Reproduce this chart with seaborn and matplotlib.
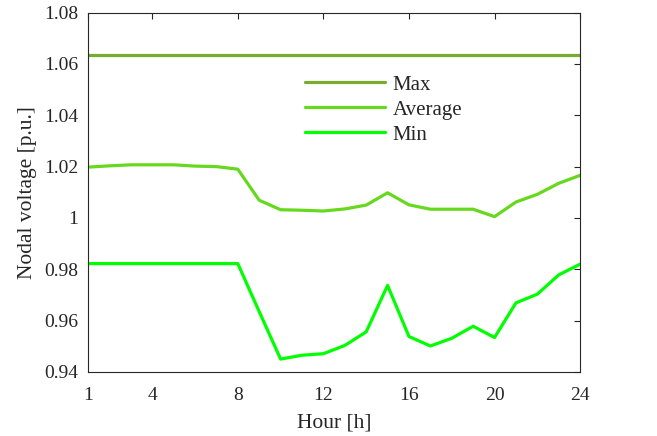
import numpy as np
import pandas as pd
import matplotlib
matplotlib.use("Agg")
import matplotlib.pyplot as plt
import seaborn as sns

# ─────────────────────────────────────────────
# Data
# ─────────────────────────────────────────────
hours = list(range(1, 25))

v_max = [1.0635] * 24

v_avg = [1.0198, 1.0203, 1.0207, 1.0207, 1.0207, 1.0202, 1.0200, 1.0190,
         1.0069, 1.0032, 1.0030, 1.0027, 1.0035, 1.0050, 1.0098, 1.0051,
         1.0034, 1.0034, 1.0034, 1.0005, 1.0062, 1.0092, 1.0135, 1.0166]

v_min = [0.9822, 0.9822, 0.9822, 0.9822, 0.9822, 0.9822, 0.9822, 0.9822,
         0.9635, 0.9450, 0.9465, 0.9471, 0.9503, 0.9556, 0.9737, 0.9538,
         0.9501, 0.9531, 0.9578, 0.9534, 0.9669, 0.9703, 0.9778, 0.9820]

series_names = ["Max", "Average", "Min"]
colors = {"Max": "#77AC30", "Average": "#66D91E", "Min": "#00FF00"}

xticks = [1, 4, 8, 12, 16, 20, 24]
yticks = [0.94, 0.96, 0.98, 1.00, 1.02, 1.04, 1.06, 1.08]
ytick_labels = ["0.94", "0.96", "0.98", "1", "1.02", "1.04", "1.06", "1.08"]

df = pd.DataFrame({
    "Hour": hours * 3,
    "Voltage": v_max + v_avg + v_min,
    "Series": ["Max"] * 24 + ["Average"] * 24 + ["Min"] * 24,
})

# ─────────────────────────────────────────────
# Plot
# ─────────────────────────────────────────────
sns.set_theme(style="white")
plt.rcParams["font.family"] = ["Liberation Serif", "DejaVu Serif"]

fig = plt.figure(figsize=(6.57, 4.36), dpi=100)
ax = fig.add_axes([0.134, 0.147, 0.749, 0.824])

sns.lineplot(data=df, x="Hour", y="Voltage", hue="Series",
             hue_order=series_names, palette=colors, linewidth=2.3, ax=ax)

ax.set_xlim(1, 24)
ax.set_ylim(0.94, 1.08)
ax.set_xticks(xticks)
ax.set_xticklabels([str(t) for t in xticks])
ax.set_yticks(yticks)
ax.set_yticklabels(ytick_labels)
ax.set_xlabel("Hour [h]", fontsize=15.5, color="#262626", labelpad=7)
ax.set_ylabel("Nodal voltage [p.u.]", fontsize=15.5, color="#262626", labelpad=5)

ax.tick_params(axis="both", direction="in", length=4, width=0.8,
               top=True, right=True, labelsize=14, colors="#262626",
               labelcolor="#262626")
ax.tick_params(axis="x", pad=11)
ax.tick_params(axis="y", pad=7)
for sp in ax.spines.values():
    sp.set_visible(True)
    sp.set_color("#262626")
    sp.set_linewidth(0.8)

leg = ax.legend(loc="upper left", bbox_to_anchor=(0.441, 0.826), frameon=False,
                fontsize=15, handlelength=3.85, handletextpad=0.34,
                labelspacing=0.26, borderaxespad=0, borderpad=0)
for line in leg.get_lines():
    line.set_linewidth(2.3)

fig.savefig("out.png", dpi=100)
